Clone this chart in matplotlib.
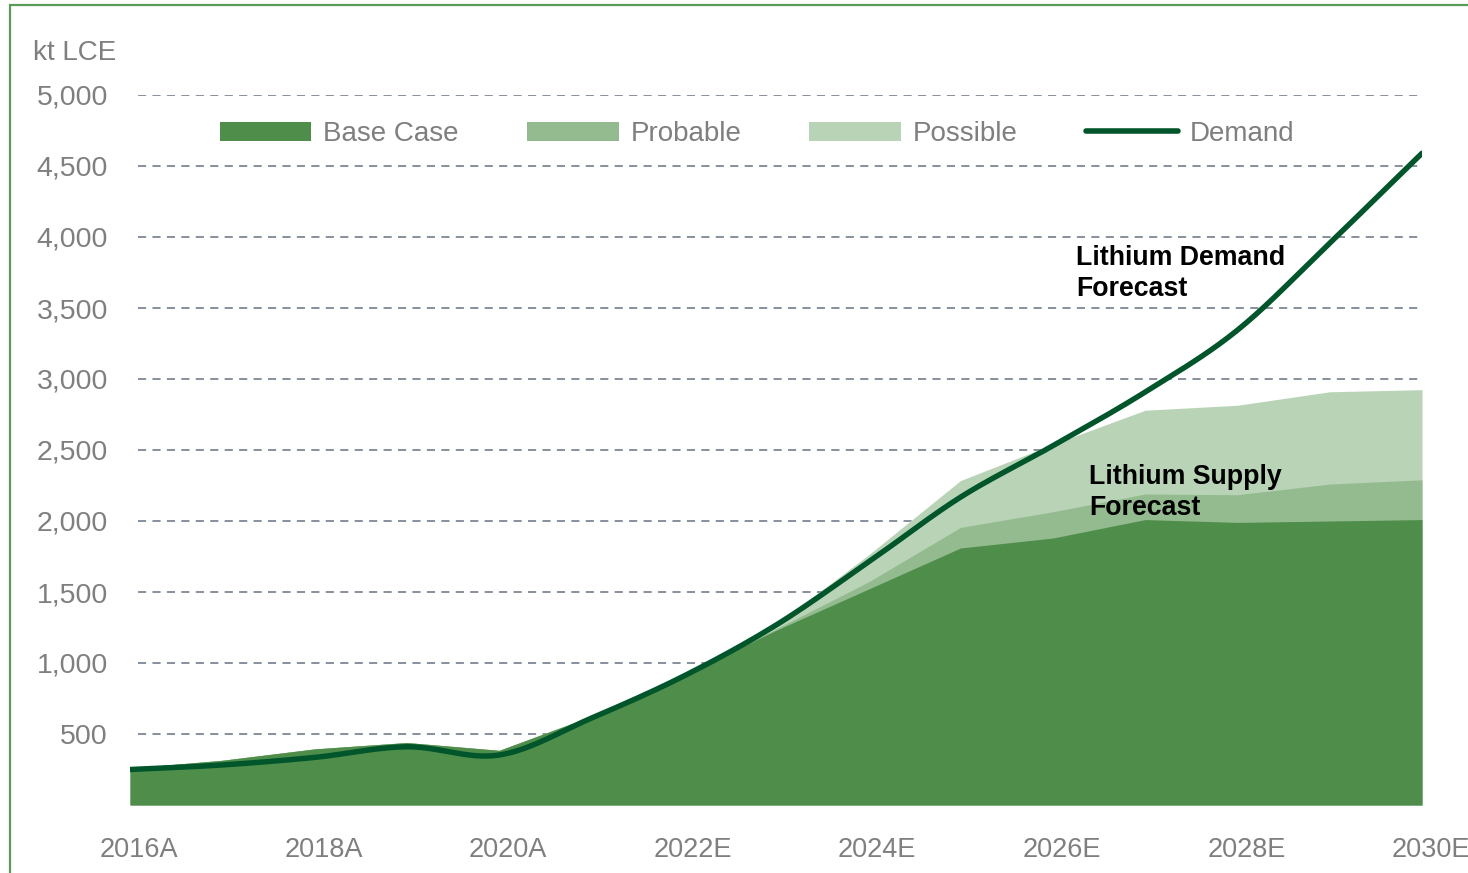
import numpy as np
import matplotlib.pyplot as plt
import matplotlib.transforms as mtransforms
from matplotlib.patches import Patch, Rectangle
from matplotlib.lines import Line2D

plt.rcParams['font.family'] = ['Liberation Sans', 'DejaVu Sans']

# Data (kt LCE)
years = np.arange(2016, 2031)
base_case = [260, 315, 395, 440, 385, 625, 915, 1230, 1520, 1810, 1880, 2010, 1990, 2000, 2010]
probable_top = [260, 315, 395, 440, 385, 625, 915, 1240, 1570, 1955, 2065, 2190, 2185, 2260, 2290]
possible_top = [260, 315, 395, 440, 385, 625, 915, 1270, 1760, 2285, 2540, 2780, 2815, 2910, 2925]
demand = [250, 282, 335, 410, 352, 612, 908, 1267, 1710, 2168, 2530, 2908, 3344, 3957, 4590]

xtick_years = [2016, 2018, 2020, 2022, 2024, 2026, 2028, 2030]
xtick_labels = ["2016A", "2018A", "2020A", "2022E", "2024E", "2026E", "2028E", "2030E"]
yticks = [500, 1000, 1500, 2000, 2500, 3000, 3500, 4000, 4500, 5000]

c_base = "#4f8d4b"
c_prob = "#94bb8f"
c_poss = "#b9d3b6"
c_demand = "#00552b"
c_text = "#7f7f7f"


def smooth(x, y, n=20):
    # Catmull-Rom curve through the points, only for drawing a soft line
    x = np.asarray(x, float)
    y = np.asarray(y, float)
    yp = np.concatenate([[2 * y[0] - y[1]], y, [2 * y[-1] - y[-2]]])
    xs, ys = [], []
    for i in range(len(x) - 1):
        p0, p1, p2, p3 = yp[i], yp[i + 1], yp[i + 2], yp[i + 3]
        t = np.linspace(0, 1, n, endpoint=False)
        ys.append(0.5 * (2 * p1 + (-p0 + p2) * t + (2 * p0 - 5 * p1 + 4 * p2 - p3) * t ** 2
                         + (-p0 + 3 * p1 - 3 * p2 + p3) * t ** 3))
        xs.append(x[i] + (x[i + 1] - x[i]) * t)
    xs.append([x[-1]])
    ys.append([y[-1]])
    return np.concatenate(xs), np.concatenate(ys)


fig = plt.figure(figsize=(14.68, 8.73), dpi=100)
ax = fig.add_axes([130 / 1468, 68 / 873, 1292 / 1468, 710 / 873])

# dashed gridlines behind the areas
ax.hlines(yticks, 2016.09, 2030, colors="#7d8794", linestyles=(0, (4.5, 3.5)), linewidth=1.3, zorder=0)

ax.fill_between(years, 0, possible_top, color=c_poss, linewidth=0, zorder=1)
ax.fill_between(years, 0, probable_top, color=c_prob, linewidth=0, zorder=2)
ax.fill_between(years, 0, base_case, color=c_base, linewidth=0, zorder=3)
dx, dy = smooth(years, demand)
ax.plot(dx, dy, color=c_demand, linewidth=3.9, solid_capstyle="round", solid_joinstyle="round", zorder=4)

ax.set_xlim(2016, 2030)
ax.set_ylim(0, 5000)
ax.set_xticks(xtick_years)
ax.set_xticklabels(xtick_labels)
ax.set_yticks(yticks)
ax.set_yticklabels([f"{v:,}" for v in yticks])
ax.tick_params(axis="both", length=0, labelcolor=c_text)
ax.tick_params(axis="y", pad=16, labelsize=20.5)
ax.tick_params(axis="x", pad=23, labelsize=19.5)
for lab in ax.get_xticklabels():
    lab.set_transform(lab.get_transform() + mtransforms.ScaledTranslation(0.09, 0, fig.dpi_scale_trans))
for s in ax.spines.values():
    s.set_visible(False)
ax.patch.set_visible(False)

# annotations
ax.text(2026.25, 3945, "Lithium Demand\nForecast", fontsize=19.3, fontweight="bold", color="black",
        va="top", ha="left", linespacing=1.25, zorder=5)
ax.text(2026.39, 2400, "Lithium Supply\nForecast", fontsize=19.3, fontweight="bold", color="black",
        va="top", ha="left", linespacing=1.25, zorder=5)

fig.text(33 / 1468, 1 - 53 / 873, "kt LCE", fontsize=20, color=c_text, va="center", ha="left")

handles = [
    Patch(facecolor=c_base, edgecolor="none"),
    Patch(facecolor=c_prob, edgecolor="none"),
    Patch(facecolor=c_poss, edgecolor="none"),
    Line2D([0], [0], color=c_demand, linewidth=4, solid_capstyle="round"),
]
leg = fig.legend(handles, ["Base Case", "Probable", "Possible", "Demand"], loc="center",
                 bbox_to_anchor=(757 / 1468, 1 - 134 / 873), ncol=4, frameon=False, fontsize=20,
                 handlelength=3.3, handleheight=0.7, handletextpad=0.43, columnspacing=2.45,
                 labelcolor=c_text)

# green frame (only top and left edges visible)
fig.patches.append(Rectangle((10 / 1468, -0.1), 1.2, 1 - 5 / 873 + 0.1, transform=fig.transFigure,
                             fill=False, edgecolor="#5b9b57", linewidth=1.6, zorder=0))

fig.savefig("out.png", dpi=100)
